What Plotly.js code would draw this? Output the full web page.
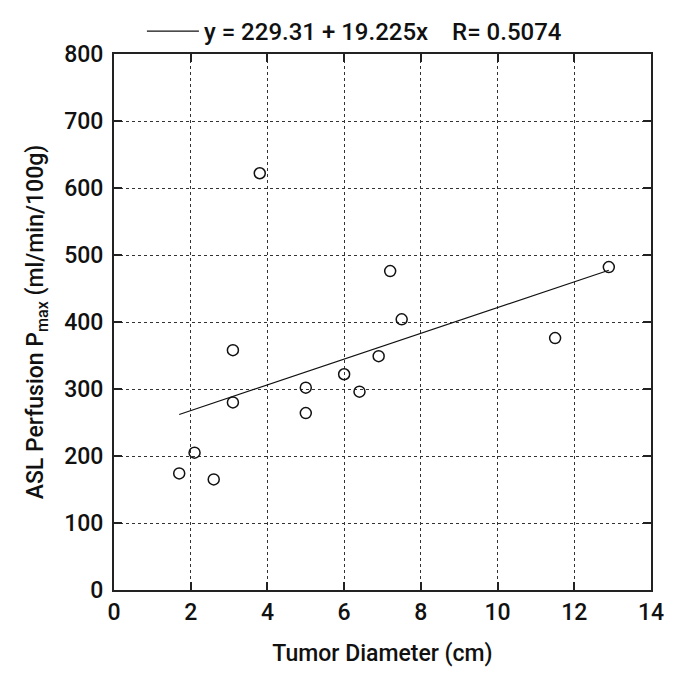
<!DOCTYPE html>
<html>
<head>
<meta charset="utf-8">
<script src="https://cdn.plot.ly/plotly-3.0.1.min.js"></script>
<style>
  html, body { margin: 0; padding: 0; background: #fff; }
  #chart { width: 680px; height: 689px; }
</style>
</head>
<body>
<div id="chart"></div>
<script>
// tumor diameter (cm) and ASL perfusion Pmax (ml/min/100g)
var diameter = [1.7, 2.1, 2.6, 3.1, 3.1, 3.8, 5.0, 5.0, 6.0, 6.4, 6.9, 7.2, 7.5, 11.5, 12.9];
var perfusion = [174, 205, 165, 280, 358, 622, 302, 264, 322, 296, 349, 476, 404, 376, 482];

// regression reported on the chart
var intercept = 229.31;
var slope = 19.225;
var rValue = "0.5074";

var xMin = Math.min.apply(null, diameter);
var xMax = Math.max.apply(null, diameter);
var fitX = [xMin, xMax];
var fitY = fitX.map(function (v) { return intercept + slope * v; });

var font = "Roboto, 'DejaVu Sans Condensed', sans-serif";

var points = {
  x: diameter,
  y: perfusion,
  mode: "markers",
  type: "scatter",
  showlegend: false,
  marker: { symbol: "circle-open", size: 11, color: "#111", line: { width: 1.5, color: "#111" } }
};

var fit = {
  x: fitX,
  y: fitY,
  mode: "lines",
  type: "scatter",
  name: "y = " + intercept + " + " + slope + "x&nbsp;&nbsp;&nbsp;&nbsp;R= " + rValue,
  line: { color: "#111", width: 1.2 }
};

var axisCommon = {
  showline: true,
  linecolor: "#222",
  linewidth: 2,
  mirror: "ticks",
  ticks: "inside",
  ticklen: 8,
  tickwidth: 1.5,
  tickcolor: "#222",
  showgrid: true,
  gridcolor: "#333",
  griddash: "dot",
  gridwidth: 1,
  zeroline: false,
  tickfont: { family: font, size: 23, weight: 500, color: "#111" }
};

Plotly.newPlot("chart", [points, fit], {
  width: 680,
  height: 689,
  margin: { l: 114, r: 29, t: 54, b: 99, autoexpand: false },
  paper_bgcolor: "#fff",
  plot_bgcolor: "#fff",
  font: { family: font, color: "#111" },
  showlegend: true,
  legend: {
    orientation: "h",
    x: 0.052,
    xanchor: "left",
    y: 1.0,
    yanchor: "bottom",
    itemwidth: 52,
    font: { family: font, size: 24, weight: 500, color: "#111" },
    bgcolor: "rgba(0,0,0,0)"
  },
  xaxis: Object.assign({}, axisCommon, {
    range: [0, 14],
    dtick: 2,
    title: { text: "Tumor Diameter (cm)", font: { family: font, size: 23, weight: 500, color: "#111" }, standoff: 20 }
  }),
  yaxis: Object.assign({}, axisCommon, {
    range: [0, 800],
    dtick: 100,
    ticklabelstandoff: 4,
    title: { text: "ASL Perfusion P<sub>max</sub> (ml/min/100g)", font: { family: font, size: 23, weight: 500, color: "#111" }, standoff: 14 }
  })
}, { displayModeBar: false });
</script>
</body>
</html>
